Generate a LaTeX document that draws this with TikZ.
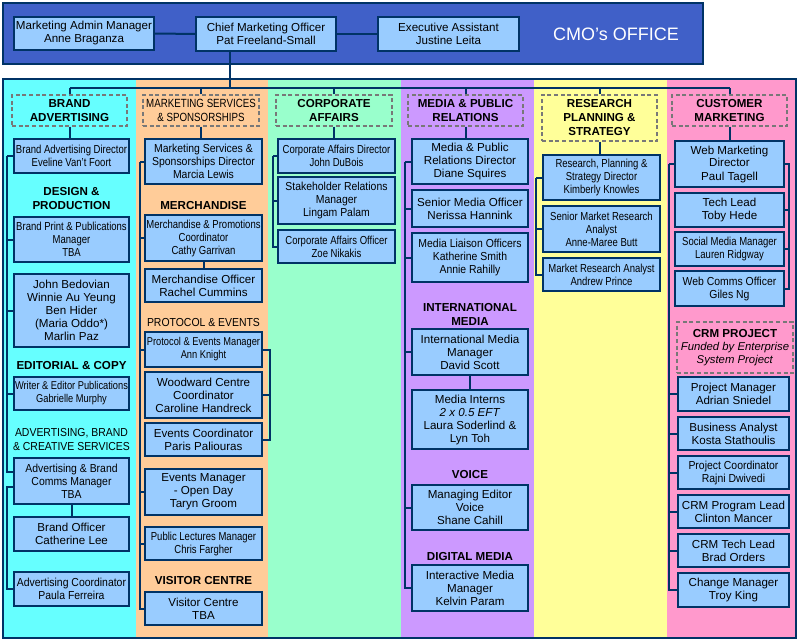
\documentclass[tikz,border=0pt]{standalone}
\usepackage{fontspec}
\setmainfont{Liberation Sans}
\newfontfamily\condfont[FakeStretch=0.82]{Liberation Sans}
\newfontfamily\semifont[FakeStretch=0.9]{Liberation Sans}
\definecolor{navy}{RGB}{0,51,102}
\definecolor{banner}{RGB}{64,96,200}
\definecolor{boxblue}{RGB}{153,204,255}
\definecolor{cyanbg}{RGB}{102,255,255}
\definecolor{peachbg}{RGB}{255,204,153}
\definecolor{mintbg}{RGB}{153,255,204}
\definecolor{lilacbg}{RGB}{204,153,255}
\definecolor{lemonbg}{RGB}{255,255,153}
\definecolor{pinkbg}{RGB}{255,153,204}
\definecolor{dashgray}{RGB}{120,120,120}
\tikzset{
  conn/.style={draw=navy,line width=1.5pt},
  pbox/.style 2 args={draw=navy,line width=1.8pt,fill=boxblue,align=center,inner sep=0pt,
    minimum width=#1*0.75pt,minimum height=#2*0.75pt,font=\fontsize{8.7}{9.75}\selectfont},
  nbox/.style 2 args={pbox={#1}{#2},font=\condfont\fontsize{8.7}{9.75}\selectfont},
  sbox/.style 2 args={pbox={#1}{#2},font=\semifont\fontsize{8.7}{9.75}\selectfont},
  hbox/.style 2 args={draw=dashgray,line width=0.8pt,dash pattern=on 3pt off 2pt,align=center,inner sep=0pt,
    minimum width=#1*0.75pt,minimum height=#2*0.75pt,font=\bfseries\fontsize{8.7}{10.5}\selectfont},
  sect/.style={align=center,font=\bfseries\fontsize{8.7}{10.5}\selectfont},
}
\begin{document}
\begin{tikzpicture}[x=0.75pt,y=-0.75pt]
  \useasboundingbox (0,0) rectangle (800,642);

  % CMO's office
  \draw[navy,line width=1pt,fill=banner] (3,3) rectangle (703,64);
  \node[text=white,font=\fontsize{13.5}{15}\selectfont] (office) at (616,34) {CMO’s OFFICE};
  \node[pbox={140}{33}] (adm) at (84,33.5) {Marketing Admin Manager\\Anne Braganza};
  \node[pbox={140}{34}] (cmo) at (266,34) {Chief Marketing Officer\\Pat Freeland-Small};
  \node[pbox={141}{34}] (ea) at (448.5,34) {Executive Assistant\\Justine Leita};
  \draw[conn] (adm) -- (cmo);
  \draw[conn] (cmo) -- (ea);

  % column backgrounds
  \foreach \xa/\xb/\c in {3/136/cyanbg,136/268/peachbg,268/401/mintbg,
                          401/534/lilacbg,534/667/lemonbg,667/796/pinkbg}{
    \fill[\c] (\xa,79) rectangle (\xb,638);
  }
  \draw[navy,line width=1pt] (3,79) rectangle (796,638);

  % department headers
  \node[hbox={115}{31}] (hBA) at (69.5,110.5) {BRAND\\ADVERTISING};
  \node[hbox={116}{31},font=\condfont\fontsize{8.9}{10.5}\selectfont] (hMS) at (201,110.5) {MARKETING SERVICES\\\& SPONSORSHIPS};
  \node[hbox={116}{31}] (hCA) at (334,110.5) {CORPORATE\\AFFAIRS};
  \node[hbox={115}{31}] (hMP) at (465.5,110.5) {MEDIA \& PUBLIC\\RELATIONS};
  \node[hbox={115}{46}] (hRP) at (599.5,118) {RESEARCH\\PLANNING \&\\STRATEGY};
  \node[hbox={115}{31}] (hCM) at (729.5,110.5) {CUSTOMER\\MARKETING};

  % Brand advertising
  \node[nbox={115}{34}] (bad) at (71.5,156) {Brand Advertising Director\\Eveline Van’t Foort};
  \node[sect] (tDP) at (71.5,199) {DESIGN \&\\PRODUCTION};
  \node[nbox={115}{45}] (bpp) at (71.5,239.5) {Brand Print \& Publications\\Manager\\TBA};
  \node[pbox={115}{73}] (jbx) at (71.5,310.5) {John Bedovian\\Winnie Au Yeung\\Ben Hider\\(Maria Oddo*)\\Marlin Paz};
  \node[sect] (tEC) at (71.5,366) {EDITORIAL \& COPY};
  \node[nbox={115}{33},font=\condfont\fontsize{8.5}{9.75}\selectfont] (wep) at (71.5,393.5) {Writer \& Editor Publications\\Gabrielle Murphy};
  \node[sect,font=\semifont\fontsize{8.7}{10.5}\selectfont] (tAB) at (71.5,440) {ADVERTISING, BRAND\\\& CREATIVE SERVICES};
  \node[sbox={115}{46}] (abc) at (71.5,481) {Advertising \& Brand\\Comms Manager\\TBA};
  \node[pbox={115}{34}] (bof) at (71.5,534) {Brand Officer\\Catherine Lee};
  \node[sbox={115}{34}] (aco) at (71.5,589) {Advertising Coordinator\\Paula Ferreira};

  % Marketing services & sponsorships
  \node[sbox={117}{45}] (msd) at (203.5,161.5) {Marketing Services \&\\Sponsorships Director\\Marcia Lewis};
  \node[sect] (tME) at (203.5,206) {MERCHANDISE};
  \node[nbox={117}{46}] (mpc) at (203.5,238) {Merchandise \& Promotions\\Coordinator\\Cathy Garrivan};
  \node[pbox={117}{33}] (mof) at (203.5,285.5) {Merchandise Officer\\Rachel Cummins};
  \node[sect,font=\semifont\fontsize{8.7}{10.5}\selectfont] (tPE) at (203.5,323) {PROTOCOL \& EVENTS};
  \node[nbox={117}{35},font=\condfont\fontsize{8.5}{9.75}\selectfont] (pem) at (203.5,349.5) {Protocol \& Events Manager\\Ann Knight};
  \node[pbox={117}{46}] (wcc) at (203.5,395) {Woodward Centre\\Coordinator\\Caroline Handreck};
  \node[pbox={117}{33}] (evc) at (203.5,439.5) {Events Coordinator\\Paris Paliouras};
  \node[pbox={117}{46}] (emo) at (203.5,492) {Events Manager\\- Open Day\\Taryn Groom};
  \node[nbox={117}{33}] (plm) at (203.5,543.5) {Public Lectures Manager\\Chris Fargher};
  \node[sect] (tVC) at (203.5,581) {VISITOR CENTRE};
  \node[pbox={117}{33}] (vic) at (203.5,608.5) {Visitor Centre\\TBA};

  % Corporate affairs
  \node[nbox={117}{34}] (cad) at (336.5,156) {Corporate Affairs Director\\John DuBois};
  \node[sbox={117}{47}] (srm) at (336.5,200.5) {Stakeholder Relations\\Manager\\Lingam Palam};
  \node[nbox={117}{33}] (cao) at (336.5,246.5) {Corporate Affairs Officer\\Zoe Nikakis};

  % Media & public relations
  \node[pbox={116}{45}] (mpd) at (470,161.5) {Media \& Public\\Relations Director\\Diane Squires};
  \node[pbox={116}{37}] (smo) at (470,208.5) {Senior Media Officer\\Nerissa Hannink};
  \node[sbox={116}{49}] (mlo) at (470,257.5) {Media Liaison Officers\\Katherine Smith\\Annie Rahilly};
  \node[sect] (tIM) at (470,314.5) {INTERNATIONAL\\MEDIA};
  \node[pbox={116}{46}] (imm) at (470,352) {International Media\\Manager\\David Scott};
  \node[pbox={116}{59}] (min) at (470,419.5) {Media Interns\\\textit{2 x 0.5 EFT}\\Laura Soderlind \&\\Lyn Toh};
  \node[sect] (tVO) at (470,475) {VOICE};
  \node[pbox={116}{45}] (med) at (470,507.5) {Managing Editor\\Voice\\Shane Cahill};
  \node[sect] (tDM) at (470,557) {DIGITAL MEDIA};
  \node[pbox={116}{46}] (imx) at (470,588) {Interactive Media\\Manager\\Kelvin Param};

  % Research planning & strategy
  \node[nbox={117}{45}] (rps) at (601.5,177.5) {Research, Planning \&\\Strategy Director\\Kimberly Knowles};
  \node[nbox={117}{46}] (smr) at (601.5,229) {Senior Market Research\\Analyst\\Anne-Maree Butt};
  \node[nbox={117}{33}] (mra) at (601.5,274.5) {Market Research Analyst\\Andrew Prince};

  % Customer marketing
  \node[pbox={109}{46}] (wmd) at (729.5,164) {Web Marketing\\Director\\Paul Tagell};
  \node[pbox={109}{34}] (tld) at (729.5,210) {Tech Lead\\Toby Hede};
  \node[nbox={109}{34}] (smm) at (729.5,249) {Social Media Manager\\Lauren Ridgway};
  \node[sbox={109}{35}] (wco) at (729.5,288.5) {Web Comms Officer\\Giles Ng};
  \node[hbox={116}{51},font=\fontsize{8.5}{10}\selectfont] (crm) at (735,347.5)
    {\textbf{\fontsize{8.7}{10}\selectfont CRM PROJECT}\\\textit{Funded by Enterprise}\\\textit{System Project}};
  \node[pbox={111}{34}] (prm) at (733.5,394) {Project Manager\\Adrian Sniedel};
  \node[pbox={111}{33}] (ban) at (733.5,433.5) {Business Analyst\\Kosta Stathoulis};
  \node[sbox={111}{33}] (pco) at (733.5,472.5) {Project Coordinator\\Rajni Dwivedi};
  \node[pbox={111}{33}] (cpl) at (733.5,511.5) {CRM Program Lead\\Clinton Mancer};
  \node[pbox={111}{33}] (ctl) at (733.5,550.5) {CRM Tech Lead\\Brad Orders};
  \node[pbox={111}{34}] (chm) at (733.5,590) {Change Manager\\Troy King};

  % bus from the CMO to the departments
  \coordinate (drop) at (230,88);
  \draw[conn] (drop |- cmo.south) -- (drop);
  \draw[conn] (hBA.north |- drop) -- (hCM.north |- drop);
  \foreach \h/\b in {hBA/bad,hMS/msd,hCA/cad,hMP/mpd,hRP/rps,hCM/wmd}{
    \draw[conn] (\h.north) -- (\h.north |- drop);
    \draw[conn] (\h.south) -- (\h.south |- \b.north);
  }

  % spines
  \coordinate (spA) at (7,0);
  \coordinate (spB) at (140,0);
  \coordinate (spC) at (270,0);
  \coordinate (spD) at (273,0);
  \coordinate (spE) at (405,0);
  \coordinate (spF) at (536,0);
  \coordinate (spG) at (669,0);
  \coordinate (spH) at (789,0);

  \foreach \b in {bad,bpp,jbx,wep}
    \draw[conn] (\b.west) -- (\b.west -| spA);
  \draw[conn] ([yshift=6.75pt]abc.west) -| (spA |- bad.west);
  \draw[conn] ([yshift=-4.5pt]abc.west) -| (spA |- aco.west) -- (aco.west);
  \draw[conn] (abc) -- (bof);

  \foreach \b in {msd,mpc,pem,emo,plm}
    \draw[conn] (\b.west) -- (\b.west -| spB);
  \draw[conn] (vic.west) -| (spB |- msd.west);
  \draw[conn] (mpc) -- (mof);
  \draw[conn] (pem.east) -| (spC |- evc.east) -- (evc.east);
  \draw[conn] (wcc.east) -- (wcc.east -| spC);

  \foreach \b in {cad,srm}
    \draw[conn] (\b.west) -- (\b.west -| spD);
  \draw[conn] (cao.west) -| (spD |- cad.west);

  \foreach \b in {mpd,smo,mlo,imm,med}
    \draw[conn] (\b.west) -- (\b.west -| spE);
  \draw[conn] (imx.west) -| (spE |- mpd.west);
  \draw[conn] (imm) -- (min);

  \foreach \b in {rps,smr}
    \draw[conn] (\b.west) -- (\b.west -| spF);
  \draw[conn] (mra.west) -| (spF |- rps.west);

  \foreach \b in {wmd,prm,ban,pco,cpl,ctl}
    \draw[conn] (\b.west) -- (\b.west -| spG);
  \draw[conn] (chm.west) -| (spG |- wmd.west);
  \draw[conn] (wmd.east) -| (spH |- wco.east) -- (wco.east);
  \foreach \b in {tld,smm}
    \draw[conn] (\b.east) -- (\b.east -| spH);
\end{tikzpicture}
\end{document}
